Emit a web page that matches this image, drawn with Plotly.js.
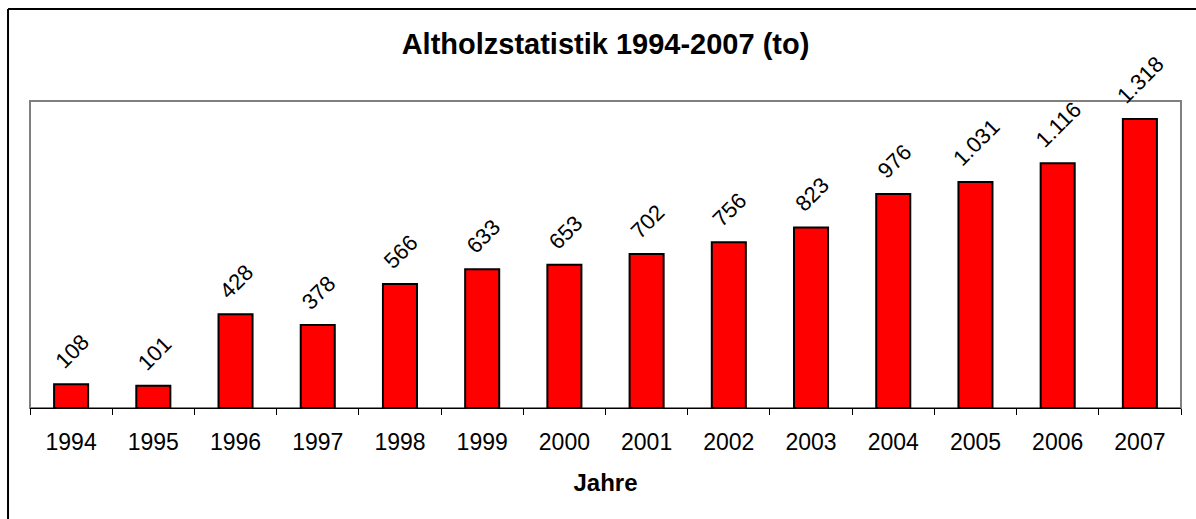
<!DOCTYPE html>
<html>
<head>
<meta charset="utf-8">
<script src="https://cdn.plot.ly/plotly-3.0.1.min.js"></script>
<style>html,body{margin:0;padding:0;background:#fff;}#chart{width:1196px;height:519px;}</style>
</head>
<body>
<div id="chart"></div>
<script>
const years = ['1994','1995','1996','1997','1998','1999','2000','2001','2002','2003','2004','2005','2006','2007'];
const tonnes = [108,101,428,378,566,633,653,702,756,823,976,1031,1116,1318];
const chartTitle = 'Altholzstatistik 1994-2007 (to)';
const xTitle = 'Jahre';

function fmtDE(v){
  return String(v).replace(/\B(?=(\d{3})+(?!\d))/g, '.');
}

const FONT = 'Liberation Sans, Arial, sans-serif';

const trace = {
  type: 'bar',
  x: years,
  y: tonnes,
  marker: {color: '#FF0000', line: {color: '#000000', width: 2}},
  hoverinfo: 'x+y'
};

// category index positions on the category axis
const labelAnnotations = years.map((yr, i) => ({
  x: i, y: tonnes[i], xref: 'x', yref: 'y',
  text: fmtDE(tonnes[i]),
  showarrow: false, textangle: -45,
  xanchor: 'center', yanchor: 'bottom', yshift: 8, xshift: 1,
  font: {family: FONT, size: 22, color: '#000'}
}));

const layout = {
  width: 1196, height: 519,
  margin: {l: 30, r: 15, t: 101, b: 111},
  paper_bgcolor: '#fff', plot_bgcolor: '#fff',
  showlegend: false,
  bargap: 0.586,
  title: {text: '<b>' + chartTitle + '</b>', x: 0.5, xref: 'paper', xanchor: 'center',
          y: 0.916, yref: 'container', yanchor: 'middle',
          font: {family: FONT, size: 29, color: '#000'}},
  xaxis: {
    type: 'category', range: [-0.5, years.length - 0.5], autorange: false,
    showline: true, linecolor: '#000', linewidth: 1,
    ticks: 'outside', tickson: 'boundaries', ticklen: 6, tickcolor: '#000', tickwidth: 1,
    ticklabelstandoff: 13, tickangle: 0,
    tickfont: {family: FONT, size: 23, color: '#000'},
    showgrid: false, zeroline: false,
    title: {text: '<b>' + xTitle + '</b>', standoff: 20, font: {family: FONT, size: 24, color: '#000'}}
  },
  yaxis: {
    range: [0, 1400], autorange: false, showticklabels: false, ticks: '',
    showgrid: false, zeroline: false, showline: false, fixedrange: true
  },
  annotations: labelAnnotations,
  shapes: [
    {type: 'rect', xref: 'paper', yref: 'paper', x0: 0, x1: 1, y0: 0, y1: 1,
     line: {color: '#808080', width: 2}, layer: 'below'},
    {type: 'line', xref: 'paper', yref: 'paper', x0: -0.0191, x1: -0.0191, y0: 1.2997, y1: -0.4,
     line: {color: '#000', width: 2}},
    {type: 'line', xref: 'paper', yref: 'paper', x0: -0.0191, x1: 1.02, y0: 1.2997, y1: 1.2997,
     line: {color: '#000', width: 2}}
  ]
};

Plotly.newPlot('chart', [trace], layout, {displayModeBar: false, staticPlot: true});
</script>
</body>
</html>
